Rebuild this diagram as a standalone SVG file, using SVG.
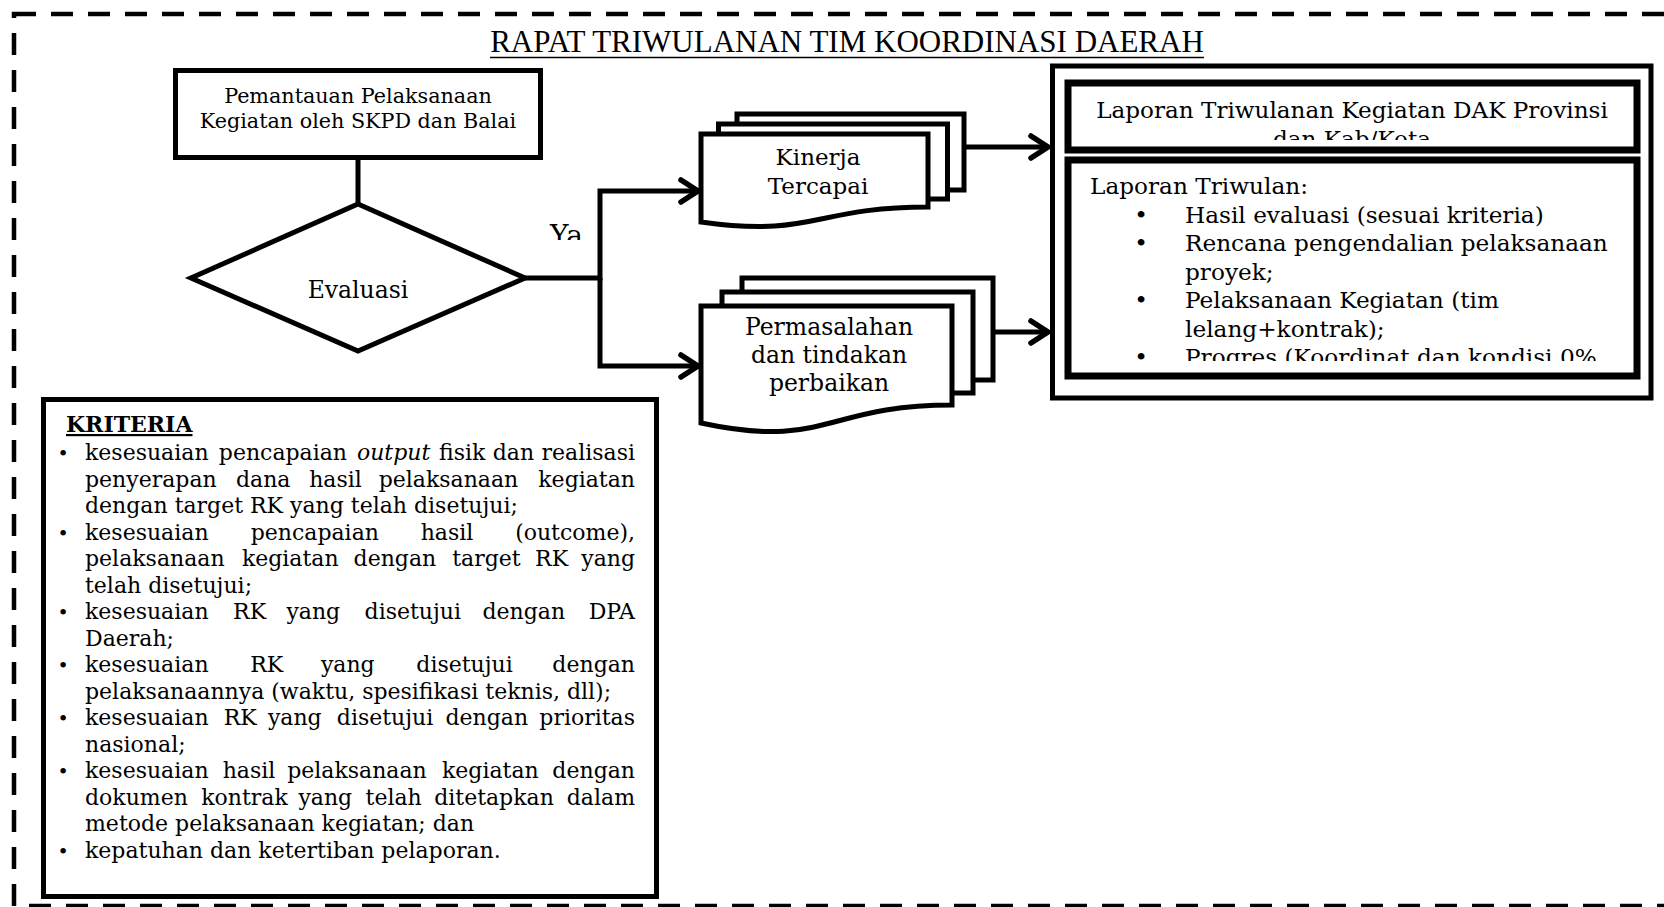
<svg xmlns="http://www.w3.org/2000/svg" width="1664" height="907" viewBox="0 0 1664 907">
<style>
.t{font-family:"DejaVu Serif","Liberation Serif",serif;fill:#000}
.box{fill:#fff;stroke:#000;stroke-width:5}
.thick{fill:#fff;stroke:#000;stroke-width:7}
.conn{fill:none;stroke:#000;stroke-width:5}
.e{text-anchor:end}
.b{text-anchor:middle;font-size:19px}
</style>
<defs>
<marker id="arr" markerUnits="userSpaceOnUse" markerWidth="30" markerHeight="30" refX="0" refY="0" orient="auto" overflow="visible">
<path d="M-17,-11 L0,0 L-17,11" fill="none" stroke="#000" stroke-width="5.5" stroke-linecap="round"/>
</marker>
<clipPath id="cYa"><rect x="540" y="200" width="70" height="40"/></clipPath>
<clipPath id="cB1"><rect x="1072" y="86" width="561" height="54"/></clipPath>
<clipPath id="cB2"><rect x="1072" y="164" width="561" height="197"/></clipPath>
</defs>
<rect width="1664" height="907" fill="#fff"/>
<rect id="frame" x="14" y="14" width="1700" height="892" fill="none" stroke="#000" stroke-width="4.5" stroke-dasharray="22 15"/>

<g id="title">
<text x="847" y="52" text-anchor="middle" font-family="Liberation Serif, serif" font-size="31">RAPAT TRIWULANAN TIM KOORDINASI DAERAH</text>
<line x1="490" y1="57.5" x2="1204" y2="57.5" stroke="#000" stroke-width="1.5"/>
</g>

<g id="connectors">
<path class="conn" d="M358,158 V204"/>
<path class="conn" d="M525,278 H600 V191 H698" marker-end="url(#arr)"/>
<path class="conn" d="M600,278 V366 H698" marker-end="url(#arr)"/>
<path class="conn" d="M965,147 H1048" marker-end="url(#arr)"/>
<path class="conn" d="M994,332 H1048" marker-end="url(#arr)"/>
<text class="t" x="550" y="245" font-size="28" clip-path="url(#cYa)">Ya</text>
</g>

<g id="pemantauan">
<rect class="box" x="175.5" y="70.5" width="365" height="87"/>
<text class="t" x="358" y="103" text-anchor="middle" font-size="20.7">Pemantauan Pelaksanaan</text>
<text class="t" x="358" y="128" text-anchor="middle" font-size="20.7">Kegiatan oleh SKPD dan Balai</text>
</g>

<g id="evaluasi">
<path class="box" d="M358,204 L525,278 L358,351 L191,278 Z"/>
<text class="t" x="358" y="298" text-anchor="middle" font-size="23.5">Evaluasi</text>
</g>

<g id="kinerja">
<rect class="box" x="737" y="114" width="227" height="76"/>
<rect class="box" x="718.5" y="124" width="229" height="75"/>
<path class="box" d="M701,134 H928 V207 C814,207 814,238 701,222 Z"/>
<text class="t" x="818" y="165" text-anchor="middle" font-size="23">Kinerja</text>
<text class="t" x="818" y="193.5" text-anchor="middle" font-size="23">Tercapai</text>
</g>

<g id="permasalahan">
<rect class="box" x="742" y="278" width="251" height="102"/>
<rect class="box" x="722" y="292" width="251" height="101"/>
<path class="box" d="M701,306 H952 V405 C826,405 826,450 701,423 Z"/>
<text class="t" x="829" y="334.5" text-anchor="middle" font-size="23.5">Permasalahan</text>
<text class="t" x="829" y="363" text-anchor="middle" font-size="23.5">dan tindakan</text>
<text class="t" x="829" y="391" text-anchor="middle" font-size="23.5">perbaikan</text>
</g>

<g id="laporan">
<rect class="box" x="1052.5" y="66" width="598.5" height="332"/>
<rect class="thick" x="1068" y="83" width="569" height="67"/>
<g clip-path="url(#cB1)">
<text class="t" x="1352" y="118" text-anchor="middle" font-size="23.1">Laporan Triwulanan Kegiatan DAK Provinsi</text>
<text class="t" x="1352" y="146.5" text-anchor="middle" font-size="23.1">dan Kab/Kota</text>
</g>
<rect class="thick" x="1068" y="160" width="569" height="216"/>
<g clip-path="url(#cB2)" class="t" font-size="23.2">
<text x="1090" y="194">Laporan Triwulan:</text>
<text x="1141" y="222.5" text-anchor="middle">•</text>
<text x="1185" y="222.5">Hasil evaluasi (sesuai kriteria)</text>
<text x="1141" y="251" text-anchor="middle">•</text>
<text x="1185" y="251">Rencana pengendalian pelaksanaan</text>
<text x="1185" y="279.5">proyek;</text>
<text x="1141" y="308" text-anchor="middle">•</text>
<text x="1185" y="308">Pelaksanaan Kegiatan (tim</text>
<text x="1185" y="336.5">lelang+kontrak);</text>
<text x="1141" y="365" text-anchor="middle">•</text>
<text x="1185" y="365">Progres (Koordinat dan kondisi 0%.</text>
</g>
</g>

<g id="kriteria">
<rect class="box" x="43.5" y="399.5" width="613" height="497" stroke-width="6"/>
<g class="t" font-size="22">
<text x="66" y="432" font-weight="bold" text-decoration="underline">KRITERIA</text>
<text class="b" x="63" y="460">•</text>
<text class="b" x="63" y="539.5">•</text>
<text class="b" x="63" y="619">•</text>
<text class="b" x="63" y="672">•</text>
<text class="b" x="63" y="725">•</text>
<text class="b" x="63" y="778">•</text>
<text class="b" x="63" y="857.5">•</text>
<text y="460"><tspan x="85">kesesuaian</tspan><tspan x="218.8">pencapaian</tspan><tspan x="356.9" font-style="italic">output</tspan><tspan x="439.1">fisik</tspan><tspan x="492.7">dan</tspan></text>
<text class="e" x="635" y="460">realisasi</text>
<text y="486.5"><tspan x="85">penyerapan</tspan><tspan x="236">dana</tspan><tspan x="309.2">hasil</tspan><tspan x="378.7">pelaksanaan</tspan></text>
<text class="e" x="635" y="486.5">kegiatan</text>
<text x="85" y="513">dengan target RK yang telah disetujui;</text>
<text y="539.5"><tspan x="85">kesesuaian</tspan><tspan x="250.7">pencapaian</tspan><tspan x="420.7">hasil</tspan></text>
<text class="e" x="635" y="539.5">(outcome),</text>
<text y="566"><tspan x="85">pelaksanaan</tspan><tspan x="241.9">kegiatan</tspan><tspan x="353.6">dengan</tspan><tspan x="452.2">target</tspan><tspan x="535.1">RK</tspan></text>
<text class="e" x="635" y="566">yang</text>
<text x="85" y="592.5">telah disetujui;</text>
<text y="619"><tspan x="85">kesesuaian</tspan><tspan x="233.1">RK</tspan><tspan x="286.4">yang</tspan><tspan x="364.6">disetujui</tspan><tspan x="482.5">dengan</tspan></text>
<text class="e" x="635" y="619">DPA</text>
<text x="85" y="645.5">Daerah;</text>
<text y="672"><tspan x="85">kesesuaian</tspan><tspan x="250.3">RK</tspan><tspan x="320.9">yang</tspan><tspan x="416.3">disetujui</tspan></text>
<text class="e" x="635" y="672">dengan</text>
<text x="85" y="698.5">pelaksanaannya (waktu, spesifikasi teknis, dll);</text>
<text y="725"><tspan x="85">kesesuaian</tspan><tspan x="223.8">RK</tspan><tspan x="267.9">yang</tspan><tspan x="336.8">disetujui</tspan><tspan x="445.5">dengan</tspan></text>
<text class="e" x="635" y="725">prioritas</text>
<text x="85" y="751.5">nasional;</text>
<text y="778"><tspan x="85">kesesuaian</tspan><tspan x="222.7">hasil</tspan><tspan x="287.2">pelaksanaan</tspan><tspan x="442">kegiatan</tspan></text>
<text class="e" x="635" y="778">dengan</text>
<text y="804.5"><tspan x="85">dokumen</tspan><tspan x="201.2">kontrak</tspan><tspan x="298.4">yang</tspan><tspan x="365.6">telah</tspan><tspan x="434.2">ditetapkan</tspan></text>
<text class="e" x="635" y="804.5">dalam</text>
<text x="85" y="831">metode pelaksanaan kegiatan; dan</text>
<text x="85" y="857.5">kepatuhan dan ketertiban pelaporan.</text>
</g>
</g>
</svg>
